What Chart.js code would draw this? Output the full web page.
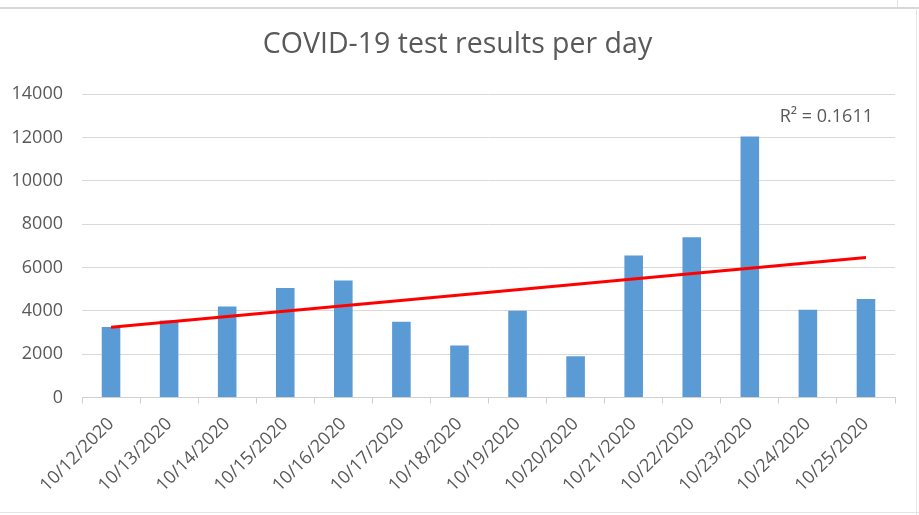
<!DOCTYPE html>
<html>
<head>
<meta charset="utf-8">
<script src="https://cdn.jsdelivr.net/npm/chart.js@4.4.0/dist/chart.umd.min.js"></script>
<style>
  html, body { margin: 0; padding: 0; background: #fff; }
  #wrap { position: relative; width: 919px; height: 515px; overflow: hidden; }
  canvas { position: absolute; left: 0; top: 0; }
  .fr { position: absolute; background: #d6d6d6; }
</style>
</head>
<body>
<div id="wrap">
  <canvas id="c" width="919" height="515"></canvas>
  <div class="fr" style="left:0;top:7px;width:919px;height:2px;"></div>
  <div class="fr" style="left:916px;top:7px;width:1px;height:508px;background:#e4e4e4;"></div>
  <div class="fr" style="left:0;top:512px;width:919px;height:1px;background:#e4e4e4;"></div>
  <div class="fr" style="left:897px;top:0;width:1px;height:7px;background:#e0e0e0;"></div>
</div>
<script>
const categories = ["10/12/2020","10/13/2020","10/14/2020","10/15/2020","10/16/2020","10/17/2020","10/18/2020","10/19/2020","10/20/2020","10/21/2020","10/22/2020","10/23/2020","10/24/2020","10/25/2020"];
const testResults = [3250, 3550, 4200, 5050, 5400, 3500, 2400, 4000, 1900, 6550, 7400, 12050, 4050, 4550];
const trendline = [3240, null, null, null, null, null, null, null, null, null, null, null, null, 6460];
const yTicks = [0, 2000, 4000, 6000, 8000, 10000, 12000, 14000];
const titleText = "COVID-19 test results per day";
const r2Label = "R\u00B2 = 0.1611";

const textColor = "#595959";
const fontFamily = "'Open Sans', 'Liberation Sans', sans-serif";

const r2Plugin = {
  id: "r2",
  afterDatasetsDraw(chart) {
    const x = chart.scales.x, y = chart.scales.y, ctx = chart.ctx;
    ctx.save();
    ctx.font = "18px " + fontFamily;
    ctx.fillStyle = textColor;
    ctx.textAlign = "right";
    ctx.textBaseline = "middle";
    ctx.fillText(r2Label, x.getPixelForValue(categories.length - 1) + 7, y.getPixelForValue(12950));
    ctx.restore();
  }
};

new Chart(document.getElementById("c"), {
  data: {
    labels: categories,
    datasets: [
      {
        type: "line",
        data: trendline,
        borderColor: "#ff0000",
        borderWidth: 3,
        pointRadius: 0,
        spanGaps: true,
        fill: false,
        order: 0
      },
      {
        type: "bar",
        data: testResults,
        backgroundColor: "#5b9bd5",
        borderWidth: 0,
        categoryPercentage: 1,
        barPercentage: 0.32,
        order: 1
      }
    ]
  },
  options: {
    responsive: false,
    animation: false,
    layout: { padding: { left: 0, right: 4, top: 0, bottom: 0 } },
    plugins: {
      legend: { display: false },
      tooltip: { enabled: false },
      title: {
        display: true,
        text: titleText,
        color: textColor,
        font: { family: fontFamily, size: 28.5, weight: "normal" },
        padding: { top: 28, bottom: 32 }
      }
    },
    scales: {
      x: {
        offset: true,
        grid: { offset: true, drawOnChartArea: false, drawTicks: true, tickLength: 6, color: "#d0d0d0" },
        border: { display: true, color: "#d0d0d0", width: 1 },
        ticks: {
          color: textColor,
          font: { family: fontFamily, size: 18 },
          minRotation: 45,
          maxRotation: 45,
          padding: 10,
          autoSkip: false
        },
        afterFit(s) { s.height = 117.5; }
      },
      y: {
        min: 0,
        max: 14000,
        afterBuildTicks(s) { s.ticks = yTicks.map(v => ({ value: v })); },
        grid: { color: "#d9d9d9", lineWidth: 1, drawTicks: false },
        border: { display: false },
        ticks: {
          color: textColor,
          font: { family: fontFamily, size: 18 },
          padding: 19,
          callback: (v) => String(v)
        },
        afterFit(s) { s.width = 82; }
      },
      yRight: {
        position: "right",
        display: true,
        grid: { display: false, drawTicks: false },
        border: { display: false },
        ticks: { display: false },
        afterFit(s) { s.width = 20; }
      }
    }
  },
  plugins: [r2Plugin]
});
</script>
</body>
</html>
